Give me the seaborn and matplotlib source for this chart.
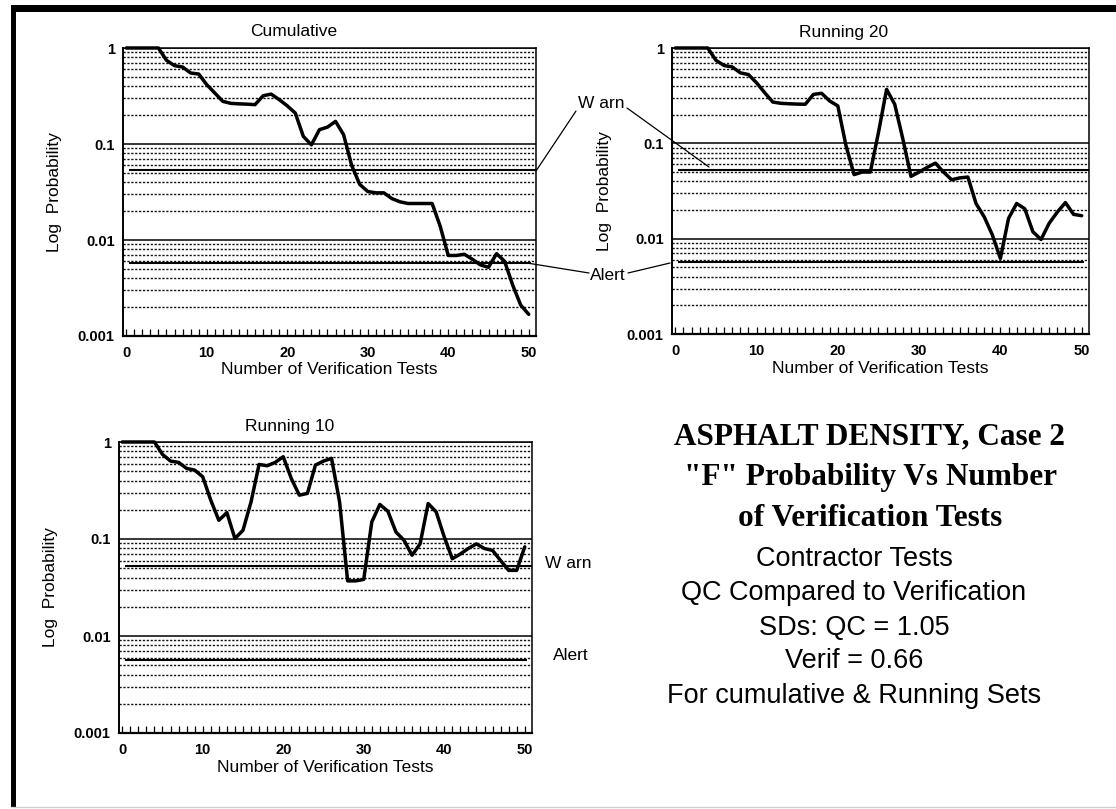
import numpy as np
import pandas as pd
import matplotlib
matplotlib.use("Agg")
import matplotlib.pyplot as plt
import seaborn as sns
from matplotlib.lines import Line2D
from matplotlib.patches import Rectangle
from matplotlib.ticker import LogLocator, NullFormatter, FixedLocator

# data (probability at each number of verification tests)
tests = np.arange(0, 51)
cumulative = [1.0, 1.0, 1.0, 1.0, 1.0, 0.744, 0.655, 0.634, 0.549, 0.536,
              0.415, 0.34, 0.278, 0.265, 0.262, 0.26, 0.257, 0.318, 0.331, 0.29,
              0.25, 0.21, 0.12, 0.098, 0.141, 0.15, 0.172, 0.125, 0.06, 0.038,
              0.032, 0.031, 0.031, 0.027, 0.025, 0.024, 0.024, 0.024, 0.024, 0.0139,
              0.0069, 0.0069, 0.0071, 0.0063, 0.0055, 0.0052, 0.0072, 0.006, 0.0034, 0.0021,
              0.00168]
running_20 = [1.0, 1.0, 1.0, 1.0, 1.0, 0.744, 0.655, 0.634, 0.549, 0.527,
              0.432, 0.34, 0.271, 0.263, 0.26, 0.258, 0.257, 0.326, 0.335, 0.278,
              0.247, 0.095, 0.047, 0.05, 0.05, 0.13, 0.368, 0.257, 0.111, 0.045,
              0.05, 0.056, 0.062, 0.05, 0.0415, 0.0434, 0.0443, 0.0234, 0.017, 0.011,
              0.0062, 0.0163, 0.0234, 0.0206, 0.0118, 0.0098, 0.0145, 0.019, 0.0239, 0.018,
              0.0174]
running_10 = [1.0, 1.0, 1.0, 1.0, 1.0, 0.745, 0.636, 0.616, 0.534, 0.513,
              0.438, 0.251, 0.156, 0.187, 0.101, 0.123, 0.241, 0.587, 0.569, 0.616,
              0.705, 0.421, 0.283, 0.295, 0.578, 0.636, 0.678, 0.241, 0.037, 0.037,
              0.0383, 0.15, 0.227, 0.193, 0.118, 0.097, 0.068, 0.089, 0.232, 0.19,
              0.105, 0.0626, 0.07, 0.08, 0.089, 0.0797, 0.0763, 0.06, 0.0475, 0.0475,
              0.083]
warn_level = 0.053
alert_level = 0.0057
ytick_vals = [0.001, 0.01, 0.1, 1]
ytick_labels = ["0.001", "0.01", "0.1", "1"]
xtick_vals = [0, 10, 20, 30, 40, 50]

sns.set_theme(style="white")
plt.rcParams["font.family"] = ["Liberation Sans", "DejaVu Sans"]
plt.rcParams["text.color"] = "black"
plt.rcParams["axes.labelcolor"] = "black"
plt.rcParams["xtick.color"] = "black"
plt.rcParams["ytick.color"] = "black"

W, H = 1116, 809
fig = plt.figure(figsize=(W / 100, H / 100), dpi=100)


def fx(px):
    return px / W


def fy(py):
    return 1 - py / H


def panel(rect, values, title, title_x):
    left, top, right, bottom = rect
    ax = fig.add_axes([fx(left), fy(bottom), fx(right) - fx(left), fy(top) - fy(bottom)])
    df = pd.DataFrame({"tests": tests, "prob": values})
    sns.lineplot(data=df, x="tests", y="prob", ax=ax, color="black", lw=2.5, clip_on=False)
    ax.set_yscale("log")
    ax.set_ylim(0.001, 1)
    ax.set_xlim(-0.4, 50.9)

    ax.yaxis.set_major_locator(FixedLocator(ytick_vals))
    ax.set_yticklabels(ytick_labels)
    ax.yaxis.set_minor_locator(LogLocator(base=10, subs=np.arange(2, 10)))
    ax.yaxis.set_minor_formatter(NullFormatter())
    ax.set_xticks(xtick_vals)
    ax.xaxis.set_minor_locator(FixedLocator(tests))

    ax.tick_params(axis="y", which="both", length=0, pad=6, labelsize=10.5)
    ax.tick_params(axis="x", which="both", direction="in", length=5, width=0.9,
                   color="black", pad=7.5, labelsize=10.5, bottom=True)
    for lab in ax.get_xticklabels() + ax.get_yticklabels():
        lab.set_fontweight("bold")

    ax.grid(False)
    ax.grid(axis="y", which="minor", color="#111111", linestyle=(0, (1.6, 1.2)), linewidth=1.0)
    ax.grid(axis="y", which="major", color="black", linestyle="-", linewidth=1.1)

    ax.hlines(warn_level, 0.3, 50.9, color="black", lw=1.5)
    ax.hlines(alert_level, 0.3, 50.3, color="black", lw=1.5)

    for s in ax.spines.values():
        s.set_color("black")
        s.set_linewidth(1.1)
    ax.spines["bottom"].set_linewidth(1.6)
    ax.spines["left"].set_linewidth(1.4)

    w = right - left
    h = bottom - top
    ax.set_xlabel("Number of Verification Tests", fontsize=12.5, va="center")
    ax.xaxis.set_label_coords(0.5, -34 / h)
    ax.set_ylabel("Log  Probability", fontsize=12.5, va="center")
    ax.yaxis.set_label_coords(-68 / w, 0.5)
    ax.text((title_x - left) / w, 1 + 16 / h, title, transform=ax.transAxes,
            ha="center", va="center", fontsize=12.5)
    return ax


panel((123, 48, 536, 336), cumulative, "Cumulative", 294)
panel((672, 48, 1089, 334), running_20, "Running 20", 844)
panel((119, 442, 532, 733), running_10, "Running 10", 290)


def fig_line(p0, p1, lw=0.9, color="black"):
    fig.add_artist(Line2D([fx(p0[0]), fx(p1[0])], [fy(p0[1]), fy(p1[1])],
                          transform=fig.transFigure, color=color, lw=lw))


# Warn / Alert call-outs for the top panels
fig.text(fx(601), fy(104), "W arn", ha="center", va="center", fontsize=12.5)
fig_line((576, 111), (536, 171))
fig_line((627, 108), (709, 167))
fig.text(fx(608), fy(275), "Alert", ha="center", va="center", fontsize=12.5)
fig_line((589, 273), (527, 263))
fig_line((628, 273), (670, 263))

# Warn / Alert labels for the bottom panel
fig.text(fx(545), fy(563), "W arn", ha="left", va="center", fontsize=12.5)
fig.text(fx(553), fy(656), "Alert", ha="left", va="center", fontsize=12.5)

# title block
bold_lines = ["ASPHALT DENSITY, Case 2", "\"F\" Probability Vs Number", "of Verification Tests"]
for txt, y in zip(bold_lines, [437, 477, 518]):
    fig.text(fx(870), fy(y), txt, ha="center", va="center", fontsize=22.5,
             fontweight="bold", family=["Liberation Serif", "DejaVu Serif"])
info_lines = ["Contractor Tests", "QC Compared to Verification", "SDs: QC = 1.05",
              "Verif = 0.66", "For cumulative & Running Sets"]
for txt, y in zip(info_lines, [559, 593, 628, 661, 696]):
    fig.text(fx(854), fy(y), txt, ha="center", va="center", fontsize=19.5)

# scanned page frame
fig.add_artist(Rectangle((fx(11), fy(12)), fx(1116) - fx(11), fy(5) - fy(12),
                         transform=fig.transFigure, color="black", lw=0))
fig.add_artist(Rectangle((fx(11), fy(807)), fx(16) - fx(11), fy(5) - fy(807),
                         transform=fig.transFigure, color="black", lw=0))
fig_line((11, 807), (1116, 807), lw=1.0, color="#cfcfcf")

fig.savefig("out.png", dpi=100, facecolor="white")
